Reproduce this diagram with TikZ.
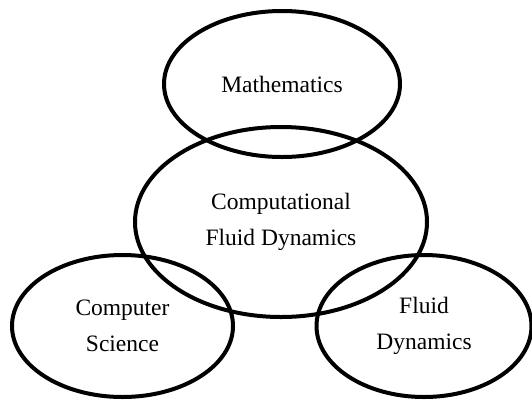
\documentclass[tikz,border=0pt]{standalone}
\usepackage{fontspec}
\setmainfont{Liberation Serif}
\usetikzlibrary{shapes.geometric}
\begin{document}
\begin{tikzpicture}[x=1pt,y=-1pt,
  venn/.style={draw, line width=4pt, ellipse, inner sep=0pt, align=center,
    font=\fontsize{23.5}{35.5}\selectfont}]
\useasboundingbox (0,0) rectangle (532,405);
\node[venn, minimum width=236pt, minimum height=146pt] (math) at (282,84) {Mathematics};
\node[venn, minimum width=292pt, minimum height=190pt] (cfd) at (281,222) {Computational\\Fluid Dynamics};
\node[venn, minimum width=221pt, minimum height=142pt] (cs) at (122.5,326) {Computer\\Science};
\node[venn, minimum width=215pt, minimum height=142pt] (fd) at (424,326) {Fluid\\Dynamics};
\end{tikzpicture}
\end{document}
